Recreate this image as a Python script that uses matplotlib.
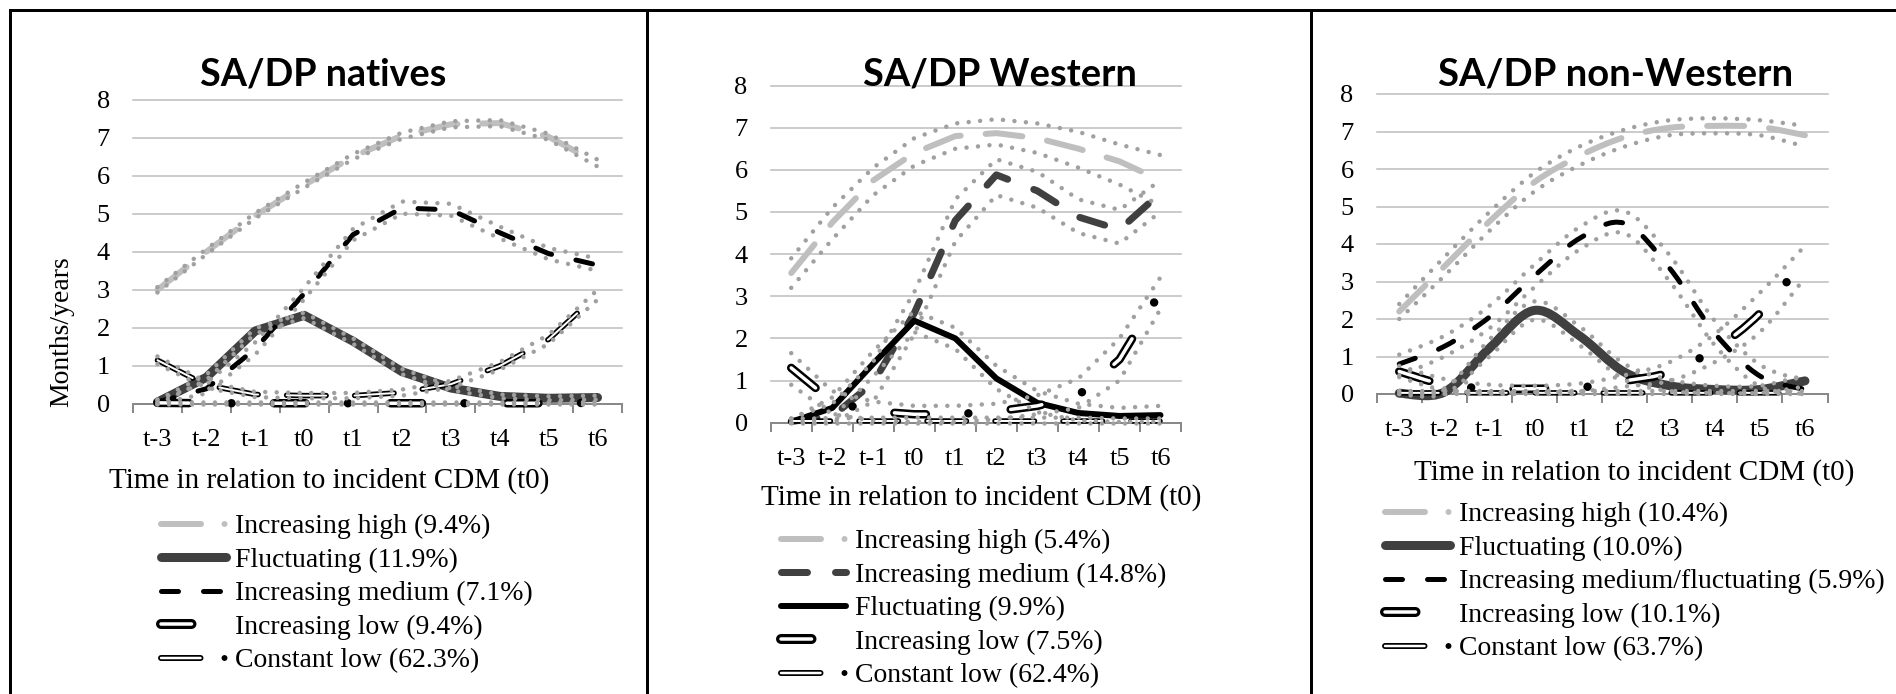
import numpy as np
import matplotlib
matplotlib.use('Agg')
import matplotlib.pyplot as plt
from matplotlib.lines import Line2D
from matplotlib.path import Path
from matplotlib.patches import PathPatch

# ---------------------------------------------------------------- data
time_points = ['t-3', 't-2', 't-1', 't0', 't1', 't2', 't3', 't4', 't5', 't6']
y_ticks = [0, 1, 2, 3, 4, 5, 6, 7, 8]
panel_titles = ['SA/DP natives', 'SA/DP Western', 'SA/DP non-Western']
x_title = 'Time in relation to incident CDM (t0)'
y_title = 'Months/years'

natives_labels = ['Increasing high (9.4%)', 'Fluctuating (11.9%)', 'Increasing medium (7.1%)',
                  'Increasing low (9.4%)', 'Constant low (62.3%)']
western_labels = ['Increasing high (5.4%)', 'Increasing medium (14.8%)', 'Fluctuating (9.9%)',
                  'Increasing low (7.5%)', 'Constant low (62.4%)']
nonwestern_labels = ['Increasing high (10.4%)', 'Fluctuating (10.0%)',
                     'Increasing medium/fluctuating (5.9%)', 'Increasing low (10.1%)',
                     'Constant low (63.7%)']

# SA/DP natives (estimate, lower and upper confidence bound)
natives_high = [3.00, 4.00, 4.95, 5.75, 6.50, 7.05, 7.35, 7.38, 7.02, 6.33]
natives_high_lo = [2.93, 3.93, 4.88, 5.68, 6.43, 6.97, 7.27, 7.30, 6.94, 6.24]
natives_high_hi = [3.07, 4.07, 5.02, 5.82, 6.57, 7.13, 7.43, 7.46, 7.10, 6.42]
natives_fluct = [0.05, 0.70, 1.92, 2.33, 1.65, 0.85, 0.42, 0.20, 0.15, 0.17]
natives_fluct_lo = [0.00, 0.63, 1.85, 2.26, 1.58, 0.78, 0.36, 0.15, 0.10, 0.12]
natives_fluct_hi = [0.10, 0.77, 1.99, 2.40, 1.72, 0.92, 0.48, 0.25, 0.20, 0.22]
natives_med = [0.05, 0.40, 1.45, 2.90, 4.45, 5.15, 5.10, 4.50, 3.95, 3.65]
natives_med_lo = [0.00, 0.28, 1.30, 2.75, 4.30, 5.00, 4.95, 4.35, 3.80, 3.50]
natives_med_hi = [0.12, 0.55, 1.62, 3.06, 4.60, 5.32, 5.26, 4.66, 4.10, 3.82]
natives_inclow = [1.15, 0.50, 0.25, 0.22, 0.22, 0.30, 0.52, 1.00, 1.70, 2.87]
natives_inclow_lo = [1.05, 0.42, 0.18, 0.15, 0.15, 0.22, 0.43, 0.90, 1.58, 2.74]
natives_inclow_hi = [1.25, 0.58, 0.32, 0.29, 0.29, 0.38, 0.61, 1.10, 1.82, 3.00]
natives_const = [0.03, 0.02, 0.02, 0.02, 0.02, 0.02, 0.02, 0.02, 0.02, 0.03]
natives_const_lo = [0.01, 0.01, 0.01, 0.01, 0.01, 0.01, 0.01, 0.01, 0.01, 0.01]
natives_const_hi = [0.05, 0.04, 0.04, 0.04, 0.04, 0.04, 0.04, 0.04, 0.04, 0.05]

# SA/DP Western
western_high = [3.55, 4.75, 5.75, 6.40, 6.80, 6.87, 6.75, 6.50, 6.20, 5.75]
western_high_lo = [3.20, 4.35, 5.40, 6.10, 6.50, 6.60, 6.40, 6.05, 5.65, 5.15]
western_high_hi = [3.90, 5.10, 6.05, 6.75, 7.10, 7.20, 7.10, 6.90, 6.60, 6.35]
western_med = [0.03, 0.15, 0.95, 2.60, 4.80, 5.88, 5.50, 4.88, 4.58, 5.45]
western_med_lo = [0.00, 0.00, 0.50, 2.10, 4.30, 5.40, 5.10, 4.50, 4.25, 5.00]
western_med_hi = [0.10, 0.45, 1.45, 3.10, 5.30, 6.25, 5.95, 5.30, 5.05, 5.75]
western_fluct = [0.02, 0.35, 1.40, 2.42, 2.00, 1.05, 0.47, 0.23, 0.16, 0.18]
western_fluct_lo = [0.00, 0.12, 1.10, 2.15, 1.75, 0.80, 0.25, 0.05, 0.02, 0.02]
western_fluct_hi = [0.08, 0.60, 1.70, 2.65, 2.25, 1.35, 0.75, 0.45, 0.35, 0.40]
western_inclow = [1.30, 0.50, 0.27, 0.20, 0.20, 0.27, 0.40, 0.65, 1.50, 3.10]
western_inclow_lo = [0.90, 0.20, 0.05, 0.02, 0.02, 0.08, 0.20, 0.35, 1.00, 2.70]
western_inclow_hi = [1.65, 0.75, 0.50, 0.40, 0.40, 0.45, 0.65, 1.05, 2.00, 3.45]
western_const = [0.03, 0.03, 0.03, 0.03, 0.03, 0.03, 0.03, 0.03, 0.03, 0.03]
western_const_lo = [0.00, 0.00, 0.00, 0.00, 0.00, 0.00, 0.00, 0.00, 0.00, 0.00]
western_const_hi = [0.10, 0.10, 0.12, 0.12, 0.12, 0.12, 0.12, 0.12, 0.10, 0.10]

# SA/DP non-Western
nonwestern_high = [2.20, 3.40, 4.60, 5.65, 6.35, 6.85, 7.10, 7.15, 7.12, 6.90]
nonwestern_high_lo = [2.00, 3.15, 4.35, 5.40, 6.10, 6.60, 6.90, 6.95, 6.90, 6.60]
nonwestern_high_hi = [2.40, 3.65, 4.85, 5.90, 6.60, 7.05, 7.30, 7.35, 7.30, 7.15]
nonwestern_fluct = [0.02, 0.05, 1.22, 2.23, 1.55, 0.58, 0.22, 0.12, 0.12, 0.35]
nonwestern_fluct_lo = [0.00, 0.00, 1.00, 1.98, 1.30, 0.38, 0.08, 0.03, 0.03, 0.20]
nonwestern_fluct_hi = [0.06, 0.15, 1.45, 2.47, 1.80, 0.80, 0.38, 0.22, 0.22, 0.50]
nonwestern_med = [0.80, 1.27, 2.05, 3.15, 4.15, 4.55, 3.35, 1.62, 0.48, 0.12]
nonwestern_med_lo = [0.50, 1.00, 1.75, 2.85, 3.85, 4.28, 3.00, 1.30, 0.20, 0.00]
nonwestern_med_hi = [1.05, 1.55, 2.35, 3.45, 4.45, 4.87, 3.70, 1.95, 0.78, 0.35]
nonwestern_inclow = [0.60, 0.25, 0.15, 0.14, 0.17, 0.35, 0.58, 1.20, 2.15, 3.60]
nonwestern_inclow_lo = [0.45, 0.10, 0.05, 0.05, 0.07, 0.20, 0.35, 0.85, 1.65, 3.10]
nonwestern_inclow_hi = [0.75, 0.40, 0.25, 0.22, 0.28, 0.50, 0.85, 1.60, 2.70, 3.95]
nonwestern_const = [0.03, 0.03, 0.03, 0.03, 0.03, 0.03, 0.03, 0.03, 0.03, 0.03]
nonwestern_const_lo = [0.00, 0.00, 0.00, 0.00, 0.00, 0.00, 0.00, 0.00, 0.00, 0.00]
nonwestern_const_hi = [0.08, 0.08, 0.08, 0.08, 0.08, 0.08, 0.08, 0.08, 0.08, 0.08]

# ---------------------------------------------------------------- styling
W, H, DPI = 1896, 694, 100
PT = 72.0 / DPI
plt.rcParams['lines.scale_dashes'] = False
plt.rcParams['font.family'] = ['Liberation Serif', 'DejaVu Serif']

LIGHT, DARK, CI_COLOR, AXIS = '#bfbfbf', '#404040', '#a0a0a0', '#898989'

# patterns in pixels (round caps)
STYLES = {
    'high':        [dict(color=LIGHT, lw=6, ls=(37, 25))],
    'high_leg':    [dict(color=LIGHT, lw=6, ls=(40, 23.5, 0, 30))],
    'fluct_dark':  [dict(color=DARK, lw=9, ls=None)],
    'fluct_black': [dict(color='black', lw=6, ls=None)],
    'med_black':   [dict(color='black', lw=5, ls=(17, 25))],
    'med_dark':    [dict(color=DARK, lw=7, ls=(26, 28))],
    'thick_dot':   [dict(color='black', lw=8.5, ls=(31.5, 42.5, 0, 42.5)),
                    dict(color='white', lw=3.5, ls=(31.5, 85))],
    'thin_long':   [dict(color='black', lw=5.5, ls=(39.5, 28.5)),
                    dict(color='white', lw=2, ls=(39.5, 28.5))],
    'inclow_leg':  [dict(color='black', lw=10, ls=(30.5, 200)),
                    dict(color='white', lw=3.5, ls=(30.5, 200))],
    'const_leg':   [dict(color='black', lw=6, ls=(39.5, 24, 0, 100)),
                    dict(color='white', lw=2.5, ls=(39.5, 200))],
    'ci':          [dict(color=CI_COLOR, lw=4.5, ls=(0, 11.5))],
}


def linestyle(spec):
    if spec is None:
        return '-'
    return (0, tuple(max(v, 0.001) * PT for v in spec))


def smooth_path(x, y):
    x = np.asarray(x, float)
    y = np.asarray(y, float)
    n = len(x)
    verts = [(x[0], y[0])]
    codes = [Path.MOVETO]
    for i in range(n - 1):
        xa, ya = (x[i - 1], y[i - 1]) if i > 0 else (x[i], y[i])
        xb, yb = (x[i + 2], y[i + 2]) if i + 2 < n else (x[i + 1], y[i + 1])
        c1 = (x[i] + (x[i + 1] - xa) / 6.0, y[i] + (y[i + 1] - ya) / 6.0)
        c2 = (x[i + 1] - (xb - x[i]) / 6.0, y[i + 1] - (yb - y[i]) / 6.0)
        verts += [c1, c2, (x[i + 1], y[i + 1])]
        codes += [Path.CURVE4] * 3
    return Path(verts, codes)


def draw_series(ax, y, style, z, smooth):
    x = np.arange(len(y))
    for k, s in enumerate(STYLES[style]):
        lw = s['lw'] * PT
        ls = linestyle(s['ls'])
        if smooth:
            ax.add_patch(PathPatch(smooth_path(x, y), fill=False, edgecolor=s['color'],
                                   linewidth=lw, linestyle=ls, capstyle='round',
                                   joinstyle='round', zorder=z + 0.01 * k, clip_on=False))
        else:
            ax.plot(x, y, color=s['color'], linewidth=lw, linestyle=ls,
                    dash_capstyle='round', solid_capstyle='round',
                    dash_joinstyle='round', solid_joinstyle='round',
                    zorder=z + 0.01 * k, clip_on=False)


def proxy(style):
    arts = [Line2D([], [], color=s['color'], linewidth=s['lw'] * PT,
                   linestyle=linestyle(s['ls']), dash_capstyle='round',
                   solid_capstyle='round') for s in STYLES[style]]
    return arts[0] if len(arts) == 1 else tuple(arts)


def fx(v):
    return v / W


def fy(v):
    return 1 - v / H


panels = [
    dict(title=panel_titles[0], box=(133, 622, 404, 99.5), smooth=False,
         title_pos=(323.5, 85), title_w=247, xlab_pos=(329, 488), leg_pos=(160.5, 514),
         series=[(natives_high, natives_high_lo, natives_high_hi, 'high'),
                 (natives_fluct, natives_fluct_lo, natives_fluct_hi, 'fluct_dark'),
                 (natives_med, natives_med_lo, natives_med_hi, 'med_black'),
                 (natives_inclow, natives_inclow_lo, natives_inclow_hi, 'thin_long'),
                 (natives_const, natives_const_lo, natives_const_hi, 'thick_dot')],
         legend=['high_leg', 'fluct_dark', 'med_black', 'inclow_leg', 'const_leg'],
         labels=natives_labels, ylabel=True),
    dict(title=panel_titles[1], box=(770.7, 1181, 422.7, 85.5), smooth=False,
         title_pos=(1000, 85), title_w=274, xlab_pos=(981, 505), leg_pos=(780.5, 529),
         series=[(western_high, western_high_lo, western_high_hi, 'high'),
                 (western_med, western_med_lo, western_med_hi, 'med_dark'),
                 (western_fluct, western_fluct_lo, western_fluct_hi, 'fluct_black'),
                 (western_inclow, western_inclow_lo, western_inclow_hi, 'thick_dot'),
                 (western_const, western_const_lo, western_const_hi, 'thin_long')],
         legend=['high_leg', 'med_dark', 'fluct_black', 'inclow_leg', 'const_leg'],
         labels=western_labels, ylabel=False),
    dict(title=panel_titles[2], box=(1376.7, 1827.5, 394, 94), smooth=True,
         title_pos=(1616, 85), title_w=355, xlab_pos=(1634, 480), leg_pos=(1384.5, 502),
         series=[(nonwestern_high, nonwestern_high_lo, nonwestern_high_hi, 'high'),
                 (nonwestern_fluct, nonwestern_fluct_lo, nonwestern_fluct_hi, 'fluct_dark'),
                 (nonwestern_med, nonwestern_med_lo, nonwestern_med_hi, 'med_black'),
                 (nonwestern_inclow, nonwestern_inclow_lo, nonwestern_inclow_hi, 'thick_dot'),
                 (nonwestern_const, nonwestern_const_lo, nonwestern_const_hi, 'thin_long')],
         legend=['high_leg', 'fluct_dark', 'med_black', 'inclow_leg', 'const_leg'],
         labels=nonwestern_labels, ylabel=False),
]

fig = plt.figure(figsize=(W / DPI, H / DPI), dpi=DPI)
fig.patch.set_facecolor('white')

LEG_FS = 20
LEG_PX = LEG_FS / PT
titles = []

for p in panels:
    xl, xr, y0, y8 = p['box']
    ax = fig.add_axes([fx(xl), fy(y0), (xr - xl) / W, (y0 - y8) / H])
    ax.set_xlim(-0.5, len(time_points) - 0.5)
    ax.set_ylim(0, 8)
    ax.set_facecolor('none')
    for side in ('top', 'right', 'left'):
        ax.spines[side].set_visible(False)
    ax.spines['bottom'].set_color(AXIS)
    ax.spines['bottom'].set_linewidth(2 * PT)
    ax.spines['bottom'].set_zorder(2.5)
    ax.set_axisbelow(True)
    ax.set_yticks(y_ticks)
    ax.set_yticklabels([str(v) for v in y_ticks])
    ax.yaxis.grid(True, color='#c0c0c0', linewidth=1.6 * PT)
    for gl in ax.get_ygridlines():
        gl.set_clip_on(False)
    ax.set_xticks(np.arange(len(time_points)))
    ax.set_xticklabels(time_points)
    ax.set_xticks(np.arange(-0.5, len(time_points), 1.0), minor=True)
    ax.tick_params(axis='x', which='major', length=0, pad=25 * PT, labelsize=19)
    ax.tick_params(axis='x', which='minor', length=9 * PT, width=2 * PT, color=AXIS,
                   direction='out')
    ax.tick_params(axis='y', which='both', length=0, pad=23 * PT, labelsize=19)

    # series
    for i, (vals, lo, hi, style) in enumerate(p['series']):
        draw_series(ax, vals, style, 3 + i * 0.1, p['smooth'])
    # confidence bounds (dotted, on top)
    for vals, lo, hi, style in p['series']:
        draw_series(ax, lo, 'ci', 4, p['smooth'])
        draw_series(ax, hi, 'ci', 4, p['smooth'])

    # title
    tx, ty = p['title_pos']
    t = fig.text(fx(tx), fy(ty), p['title'], ha='center', va='baseline',
                 fontsize=28, fontweight='bold', family=['Lato', 'DejaVu Sans'])
    titles.append((t, p['title_w']))

    # x-axis title
    lx, ly = p['xlab_pos']
    fig.text(fx(lx), fy(ly), x_title, ha='center', va='baseline', fontsize=21)

    if p['ylabel']:
        fig.text(fx(62), fy(332), y_title, ha='center', va='center', rotation=90,
                 fontsize=20)

    # legend
    gx, gy = p['leg_pos']
    handles = [proxy(s) for s in p['legend']]
    fig.legend(handles, p['labels'], loc='upper left',
               bbox_to_anchor=(fx(gx), fy(gy)), bbox_transform=fig.transFigure,
               frameon=False, borderpad=0, borderaxespad=0,
               handlelength=65 / LEG_PX, handletextpad=9.5 / LEG_PX,
               labelspacing=0.29, handleheight=0.7,
               prop={'family': ['Liberation Serif'], 'size': LEG_FS})

# panel frame lines
frame = [((10, 10), (1896, 10)), ((10, 10), (10, 694)),
         ((647, 10), (647, 694)), ((1311, 10), (1311, 694))]
for (x1, y1), (x2, y2) in frame:
    fig.add_artist(Line2D([fx(x1), fx(x2)], [fy(y1), fy(y2)], color='black',
                          linewidth=3 * PT, transform=fig.transFigure,
                          solid_capstyle='projecting'))

# fit title sizes to reference widths
fig.canvas.draw()
r = fig.canvas.get_renderer()
for t, w in titles:
    cur = t.get_window_extent(r).width
    t.set_fontsize(t.get_fontsize() * w / cur)

fig.savefig('out.png', dpi=DPI, facecolor='white')
